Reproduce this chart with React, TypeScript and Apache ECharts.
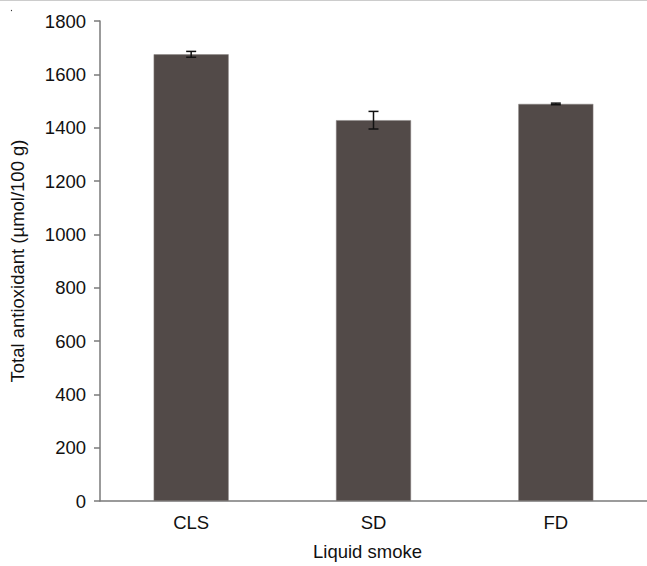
import React, { useEffect, useRef } from "react";
import * as echarts from "echarts";

const categories = ["CLS", "SD", "FD"];
const values = [1675, 1428, 1489];
const errors = [11, 33, 3];
const yTicks = [0, 200, 400, 600, 800, 1000, 1200, 1400, 1600, 1800];

export default function App() {
  const ref = useRef<HTMLDivElement>(null);
  useEffect(() => {
    if (!ref.current) return;
    const chart = echarts.init(ref.current, null, { renderer: "svg" });
    const font = "Liberation Sans, Arial, Helvetica, sans-serif";
    const errData = categories.map((c, i) => [i, values[i] - errors[i], values[i] + errors[i]]);
    chart.setOption({
      animation: false,
      backgroundColor: "#ffffff",
      grid: { left: 96, right: -13, top: 21, height: 484, containLabel: false },
      xAxis: {
        type: "category",
        data: categories,
        name: "Liquid smoke",
        nameLocation: "middle",
        nameGap: 41,
        nameTextStyle: { fontFamily: font, fontSize: 18.5, color: "#111", padding: [0, 12, 0, 0] },
        axisLine: { lineStyle: { color: "#7a7a7a", width: 1.5 } },
        axisTick: { show: false },
        axisLabel: { fontFamily: font, fontSize: 18.5, color: "#111", margin: 12 },
      },
      yAxis: {
        type: "value",
        min: yTicks[0],
        max: yTicks[yTicks.length - 1],
        interval: 200,
        name: "Total antioxidant (µmol/100 g)",
        nameLocation: "middle",
        nameGap: 73,
        nameTextStyle: { fontFamily: font, fontSize: 18.5, color: "#111" },
        axisLine: { show: true, lineStyle: { color: "#7a7a7a", width: 1.5 } },
        axisTick: { show: true, length: 6, lineStyle: { color: "#7a7a7a", width: 1.5 } },
        axisLabel: { fontFamily: font, fontSize: 18.5, color: "#111", margin: 14, formatter: (v: number) => String(v) },
        splitLine: { show: false },
      },
      series: [
        {
          type: "bar",
          data: values,
          barWidth: 75,
          itemStyle: { color: "#524a48", borderColor: "#8a8483", borderWidth: 0.5 },
        },
        {
          type: "custom",
          data: errData,
          z: 10,
          renderItem: (params: any, api: any) => {
            const x = api.value(0);
            const lo = api.coord([x, api.value(1)]);
            const hi = api.coord([x, api.value(2)]);
            const hw = 5;
            const style = { stroke: "#111", lineWidth: 1.5 };
            return {
              type: "group",
              children: [
                { type: "line", shape: { x1: lo[0], y1: lo[1], x2: hi[0], y2: hi[1] }, style },
                { type: "line", shape: { x1: lo[0] - hw, y1: lo[1], x2: lo[0] + hw, y2: lo[1] }, style },
                { type: "line", shape: { x1: hi[0] - hw, y1: hi[1], x2: hi[0] + hw, y2: hi[1] }, style },
              ],
            };
          },
        },
      ],
      graphic: [
        { type: "line", shape: { x1: 0, y1: 0.5, x2: 647, y2: 0.5 }, style: { stroke: "#cccccc", lineWidth: 1 } },
        { type: "circle", shape: { cx: 11.5, cy: 10.5, r: 0.6 }, style: { fill: "#333" } },
      ],
    });
    return () => chart.dispose();
  }, []);
  return (
    <div
      ref={ref}
      style={{ position: "fixed", left: 0, top: 0, width: 647, height: 566, background: "#fff" }}
    />
  );
}
